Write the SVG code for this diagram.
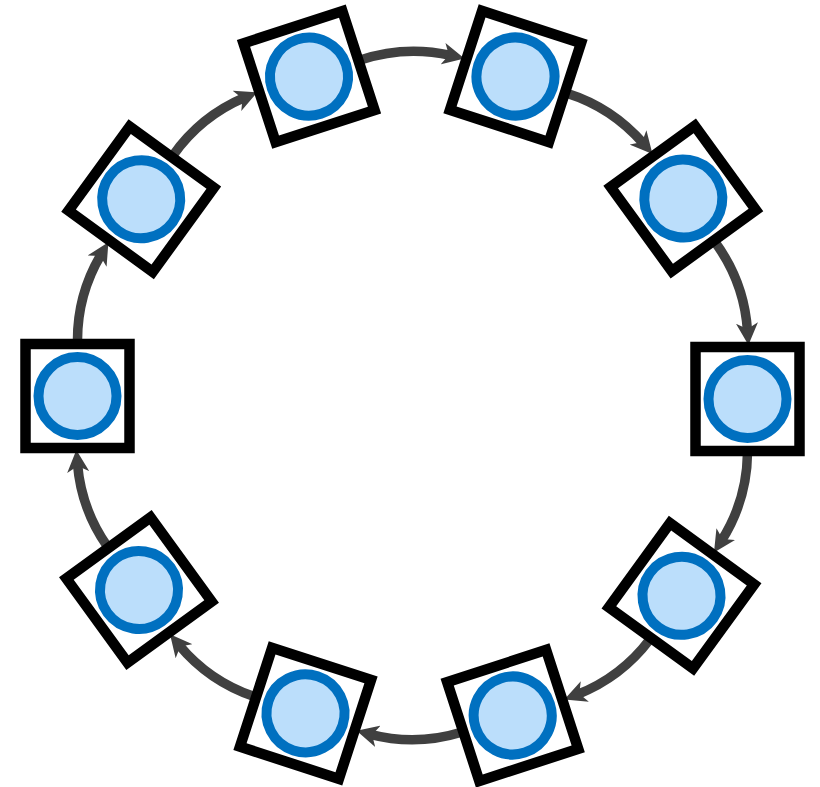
<svg xmlns="http://www.w3.org/2000/svg" width="820" height="787" viewBox="0 0 820 787">
<style>
.conn{fill:none;stroke:#404040;stroke-width:9.5;marker-end:url(#ah)}
.sq{fill:#ffffff;stroke:#000000;stroke-width:10.5}
.ci{fill:#bbdefb;stroke:#0070c0;stroke-width:10}
</style>
<defs>
<marker id="ah" markerUnits="userSpaceOnUse" viewBox="0 0 22 22" markerWidth="22" markerHeight="22" refX="8" refY="11" orient="auto">
<path d="M22,11 L0,0 L6,11 L0,22 Z" fill="#404040"/>
</marker>
<g id="nodeShape"><rect class="sq" x="-52" y="-52" width="104" height="104"/><circle class="ci" r="39"/></g>
</defs>
<rect width="820" height="787" fill="#ffffff"/>
<g id="connectors">
<path class="conn" d="M747.5,453 A168,168 0 0 1 721.47,540.78"/>
<path class="conn" d="M649.76,639.49 A168,168 0 0 1 577.38,694.48"/>
<path class="conn" d="M461.34,732.19 A168,168 0 0 1 370.18,734.32"/>
<path class="conn" d="M254.14,696.61 A168,168 0 0 1 178.97,645.02"/>
<path class="conn" d="M107.26,546.31 A168,168 0 0 1 77.5,464"/>
<path class="conn" d="M77.5,342 A168,168 0 0 1 101.23,254.22"/>
<path class="conn" d="M172.94,155.51 A168,168 0 0 1 244.32,97.72"/>
<path class="conn" d="M360.36,60.01 A168,168 0 0 1 450.82,55.48"/>
<path class="conn" d="M566.86,93.19 A168,168 0 0 1 643.33,143.48"/>
<path class="conn" d="M715.04,242.19 A168,168 0 0 1 747.5,331"/>
</g>
<g id="n0" transform="translate(747.5,399) rotate(0)"><use href="#nodeShape"/></g>
<g id="n1" transform="translate(681.5,595.8) rotate(36)"><use href="#nodeShape"/></g>
<g id="n2" transform="translate(512.7,715.5) rotate(72)"><use href="#nodeShape"/></g>
<g id="n3" transform="translate(305.5,713.3) rotate(108)"><use href="#nodeShape"/></g>
<g id="n4" transform="translate(139,590) rotate(144)"><use href="#nodeShape"/></g>
<g id="n5" transform="translate(77.5,396) rotate(180)"><use href="#nodeShape"/></g>
<g id="n6" transform="translate(141.2,199.2) rotate(216)"><use href="#nodeShape"/></g>
<g id="n7" transform="translate(309,76.7) rotate(252)"><use href="#nodeShape"/></g>
<g id="n8" transform="translate(515.5,76.5) rotate(288)"><use href="#nodeShape"/></g>
<g id="n9" transform="translate(683.3,198.5) rotate(324)"><use href="#nodeShape"/></g>
</svg>
